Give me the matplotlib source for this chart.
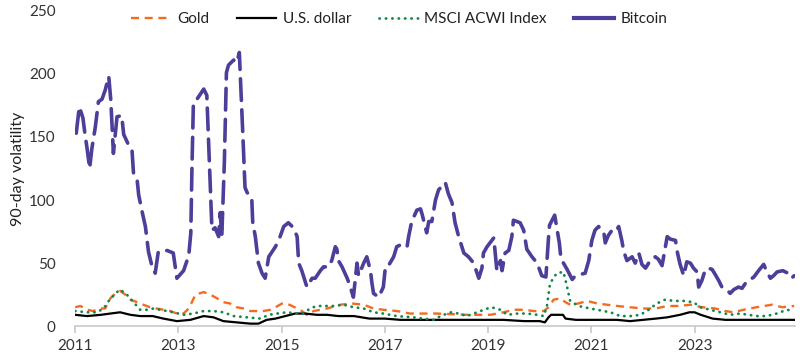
import matplotlib
matplotlib.use("Agg")
import matplotlib.pyplot as plt

# 90-day volatility, values (x = fractional year)
btc_t = [2011.02, 2011.08, 2011.15, 2011.19, 2011.23, 2011.28, 2011.32, 2011.39, 2011.45, 2011.52,
         2011.58, 2011.65, 2011.69, 2011.74, 2011.81, 2011.90, 2011.94, 2012.03, 2012.10, 2012.13,
         2012.20, 2012.23, 2012.29, 2012.36, 2012.42, 2012.49, 2012.55, 2012.61, 2012.78, 2012.90,
         2012.97, 2013.10, 2013.20, 2013.24, 2013.26, 2013.29, 2013.36, 2013.49, 2013.55, 2013.60,
         2013.65, 2013.71, 2013.78, 2013.81, 2013.84, 2013.89, 2013.93, 2013.97, 2014.07, 2014.13,
         2014.18, 2014.20, 2014.25, 2014.29, 2014.33, 2014.42, 2014.44, 2014.49, 2014.55, 2014.62,
         2014.68, 2014.75, 2014.88, 2014.97, 2015.04, 2015.13, 2015.23, 2015.30, 2015.33, 2015.39,
         2015.49, 2015.59, 2015.65, 2015.75, 2015.81, 2015.91, 2015.97, 2016.04, 2016.07, 2016.10,
         2016.17, 2016.27, 2016.33, 2016.39, 2016.46, 2016.49, 2016.59, 2016.65, 2016.72, 2016.75,
         2016.78, 2016.88, 2016.97, 2017.01, 2017.07, 2017.17, 2017.23, 2017.33, 2017.43, 2017.46,
         2017.52, 2017.62, 2017.69, 2017.72, 2017.81, 2017.85, 2017.91, 2017.98, 2018.04, 2018.17,
         2018.23, 2018.30, 2018.36, 2018.43, 2018.53, 2018.62, 2018.72, 2018.82, 2018.88, 2018.91,
         2018.98, 2019.11, 2019.17, 2019.24, 2019.27, 2019.33, 2019.40, 2019.46, 2019.49, 2019.62,
         2019.69, 2019.75, 2019.85, 2019.95, 2020.04, 2020.12, 2020.17, 2020.19, 2020.24, 2020.29,
         2020.38, 2020.41, 2020.46, 2020.53, 2020.63, 2020.69, 2020.79, 2020.88, 2020.95, 2021.01,
         2021.07, 2021.14, 2021.24, 2021.27, 2021.33, 2021.40, 2021.47, 2021.53, 2021.59, 2021.63,
         2021.69, 2021.79, 2021.85, 2021.92, 2021.98, 2022.05, 2022.11, 2022.18, 2022.24, 2022.30,
         2022.37, 2022.43, 2022.47, 2022.53, 2022.63, 2022.67, 2022.72, 2022.79, 2022.85, 2022.92,
         2022.98, 2023.05, 2023.08, 2023.14, 2023.21, 2023.27, 2023.34, 2023.40, 2023.47, 2023.53,
         2023.60, 2023.69, 2023.76, 2023.85, 2023.92, 2024.02, 2024.08, 2024.15, 2024.24, 2024.34,
         2024.40, 2024.47, 2024.53, 2024.60, 2024.71, 2024.81, 2024.88, 2024.93]
btc_v = [153, 174, 165, 152, 141, 125, 140, 158, 178, 180,
         187, 198, 179, 137, 166, 167, 152, 144, 140, 121,
         116, 104, 92, 79, 59, 47, 42, 59, 60, 58,
         38, 44, 56, 74, 121, 177, 180, 188, 183, 130,
         76, 78, 71, 90, 71, 130, 201, 207, 211, 209,
         217, 198, 150, 110, 106, 102, 82, 71, 50, 42,
         38, 55, 63, 71, 79, 82, 78, 71, 50, 44,
         31, 38, 38, 44, 47, 47, 52, 63, 61, 52,
         47, 38, 31, 23, 50, 40, 50, 55, 44, 34,
         26, 23, 31, 47, 48, 55, 63, 65, 63, 71,
         83, 92, 93, 89, 74, 83, 83, 100, 108, 114,
         105, 98, 82, 71, 58, 55, 50, 38, 46, 58,
         63, 70, 44, 52, 44, 58, 60, 71, 84, 82,
         76, 61, 55, 50, 40, 39, 70, 80, 84, 88,
         66, 54, 50, 45, 37, 40, 41, 42, 52, 68,
         76, 79, 75, 66, 72, 76, 75, 79, 68, 59,
         52, 55, 50, 58, 49, 46, 50, 54, 55, 53,
         48, 62, 71, 69, 68, 58, 49, 40, 51, 50,
         46, 43, 31, 36, 45, 46, 45, 41, 36, 31,
         30, 26, 29, 31, 30, 36, 37, 39, 44, 49,
         43, 38, 40, 43, 44, 42, 38, 40]

gold_t = [2011.00, 2011.10, 2011.23, 2011.35, 2011.48, 2011.58, 2011.68, 2011.78, 2011.87, 2011.97,
          2012.07, 2012.20, 2012.32, 2012.45, 2012.58, 2012.71, 2012.84, 2012.97, 2013.10, 2013.20,
          2013.26, 2013.33, 2013.49, 2013.62, 2013.75, 2013.87, 2014.00, 2014.13, 2014.26, 2014.39,
          2014.65, 2014.78, 2014.88, 2015.01, 2015.10, 2015.20, 2015.30, 2015.39, 2015.49, 2015.62,
          2015.75, 2015.88, 2016.14, 2016.36, 2016.59, 2016.78, 2016.97, 2017.23, 2017.49, 2018.01,
          2018.59, 2019.04, 2019.30, 2019.49, 2019.69, 2019.88, 2020.08, 2020.17, 2020.27, 2020.40,
          2020.50, 2020.59, 2020.75, 2020.92, 2021.11, 2021.30, 2021.50, 2021.75, 2022.00, 2022.25,
          2022.47, 2022.70, 2022.92, 2023.15, 2023.40, 2023.60, 2023.75, 2023.95, 2024.20, 2024.50,
          2024.70, 2024.93]
gold_v = [15, 16, 13, 12, 14, 14, 22, 26, 28, 25,
          21, 19, 17, 15, 14, 13, 12, 10, 10, 14,
          19, 25, 27, 25, 22, 19, 18, 15, 14, 12,
          12, 13, 15, 18, 18, 16, 14, 12, 9, 12,
          13, 14, 17, 18, 17, 14, 13, 12, 10, 10,
          9, 9, 11, 13, 13, 12, 12, 15, 21, 22,
          19, 17, 18, 20, 18, 17, 16, 15, 14, 14,
          16, 16, 17, 15, 14, 12, 11, 13, 15, 17,
          15, 16]

usd_t = [2011.00, 2011.23, 2011.50, 2011.68, 2011.87, 2012.07, 2012.26, 2012.50, 2012.71, 2012.97,
         2013.23, 2013.49, 2013.68, 2013.87, 2014.13, 2014.39, 2014.55, 2014.71, 2014.88, 2015.07,
         2015.26, 2015.45, 2015.68, 2015.88, 2016.10, 2016.40, 2016.70, 2017.00, 2017.30, 2017.80,
         2018.30, 2018.80, 2019.30, 2019.70, 2020.00, 2020.10, 2020.17, 2020.22, 2020.45, 2020.50,
         2020.70, 2021.00, 2021.50, 2021.75, 2022.00, 2022.25, 2022.47, 2022.72, 2022.90, 2023.00,
         2023.12, 2023.35, 2023.60, 2024.00, 2024.30, 2024.60, 2024.93]
usd_v = [9, 8, 9, 10, 11, 9, 8, 8, 6, 4,
         5, 8, 7, 4, 3, 2, 2, 5, 6, 8,
         10, 10, 9, 9, 8, 8, 6, 6, 5, 5,
         5, 5, 5, 4, 4, 3, 7, 9, 9, 6,
         5, 5, 5, 4, 5, 6, 7, 9, 11, 11,
         9, 6, 5, 5, 5, 5, 5]

msci_t = [2011.00, 2011.23, 2011.42, 2011.55, 2011.65, 2011.78, 2011.87, 2012.00, 2012.13, 2012.26,
          2012.39, 2012.52, 2012.65, 2012.78, 2012.90, 2013.10, 2013.29, 2013.49, 2013.68, 2013.87,
          2014.07, 2014.33, 2014.59, 2014.75, 2014.91, 2015.10, 2015.30, 2015.42, 2015.55, 2015.68,
          2015.85, 2016.00, 2016.20, 2016.39, 2016.59, 2016.78, 2016.97, 2017.23, 2017.55, 2017.95,
          2018.08, 2018.27, 2018.43, 2018.59, 2018.85, 2019.06, 2019.24, 2019.37, 2019.57, 2019.76,
          2019.95, 2020.08, 2020.14, 2020.20, 2020.33, 2020.46, 2020.52, 2020.59, 2020.75, 2020.98,
          2021.37, 2021.56, 2021.76, 2021.95, 2022.11, 2022.27, 2022.43, 2022.60, 2022.79, 2022.98,
          2023.11, 2023.30, 2023.50, 2023.69, 2023.88, 2024.05, 2024.20, 2024.40, 2024.59, 2024.79,
          2024.93]
msci_v = [12, 11, 11, 14, 20, 26, 29, 25, 19, 13,
          13, 14, 13, 12, 11, 9, 10, 12, 12, 11,
          8, 7, 6, 9, 10, 11, 10, 10, 14, 16,
          16, 16, 17, 15, 14, 11, 10, 8, 7, 5,
          8, 11, 10, 8, 12, 15, 13, 9, 10, 10,
          9, 8, 16, 34, 42, 43, 33, 20, 16, 14,
          11, 8, 8, 9, 13, 18, 21, 20, 20, 19,
          15, 13, 11, 9, 10, 9, 8, 8, 10, 13,
          12]

years = [2011, 2013, 2015, 2017, 2019, 2021, 2023]
yticks = [0, 50, 100, 150, 200, 250]

plt.rcParams['font.family'] = ['Lato', 'DejaVu Sans']

fig = plt.figure(figsize=(8, 3.62), dpi=100)
ax = fig.add_axes([0.094, 0.099, 0.90, 0.871])

ax.plot(gold_t, gold_v, color='#F26B21', lw=1.7, dashes=(3.4, 2.4), label='Gold')
ax.plot(usd_t, usd_v, color='black', lw=1.6, label='U.S. dollar')
ax.plot(msci_t, msci_v, color='#11874A', lw=2.0, linestyle=(0, (0.1, 2.2)),
        dash_capstyle='round', label='MSCI ACWI Index')
ax.plot(btc_t, btc_v, color='#4E3D99', lw=2.6, dashes=(6, 2.6),
        dash_capstyle='round', solid_capstyle='round')

# legend shows bitcoin as a solid thick line
ax.plot([], [], color='#4E3D99', lw=3.0, label='Bitcoin')

ax.set_xlim(2011, 2024.95)
ax.set_ylim(0, 250)
ax.set_xticks(years)
ax.set_xticklabels([str(y) for y in years])
ax.set_yticks(yticks)

for s in ['top', 'right', 'left']:
    ax.spines[s].set_visible(False)
ax.spines['bottom'].set_color('#C8C8C8')
ax.spines['bottom'].set_linewidth(1.2)
ax.tick_params(axis='x', length=5, width=1.2, color='#C8C8C8', labelsize=11,
               labelcolor='#333333', pad=4)
ax.tick_params(axis='y', length=0, labelsize=11, labelcolor='#333333', pad=14)
ax.set_ylabel('90-day volatility', fontsize=11.5, color='#222222', labelpad=3)

ax.legend(loc='upper center', bbox_to_anchor=(0.45, 1.04), ncol=4, frameon=False,
          fontsize=11, handlelength=2.6, columnspacing=1.8, handletextpad=0.4,
          labelcolor='#222222')

fig.savefig('out.png', dpi=100)
